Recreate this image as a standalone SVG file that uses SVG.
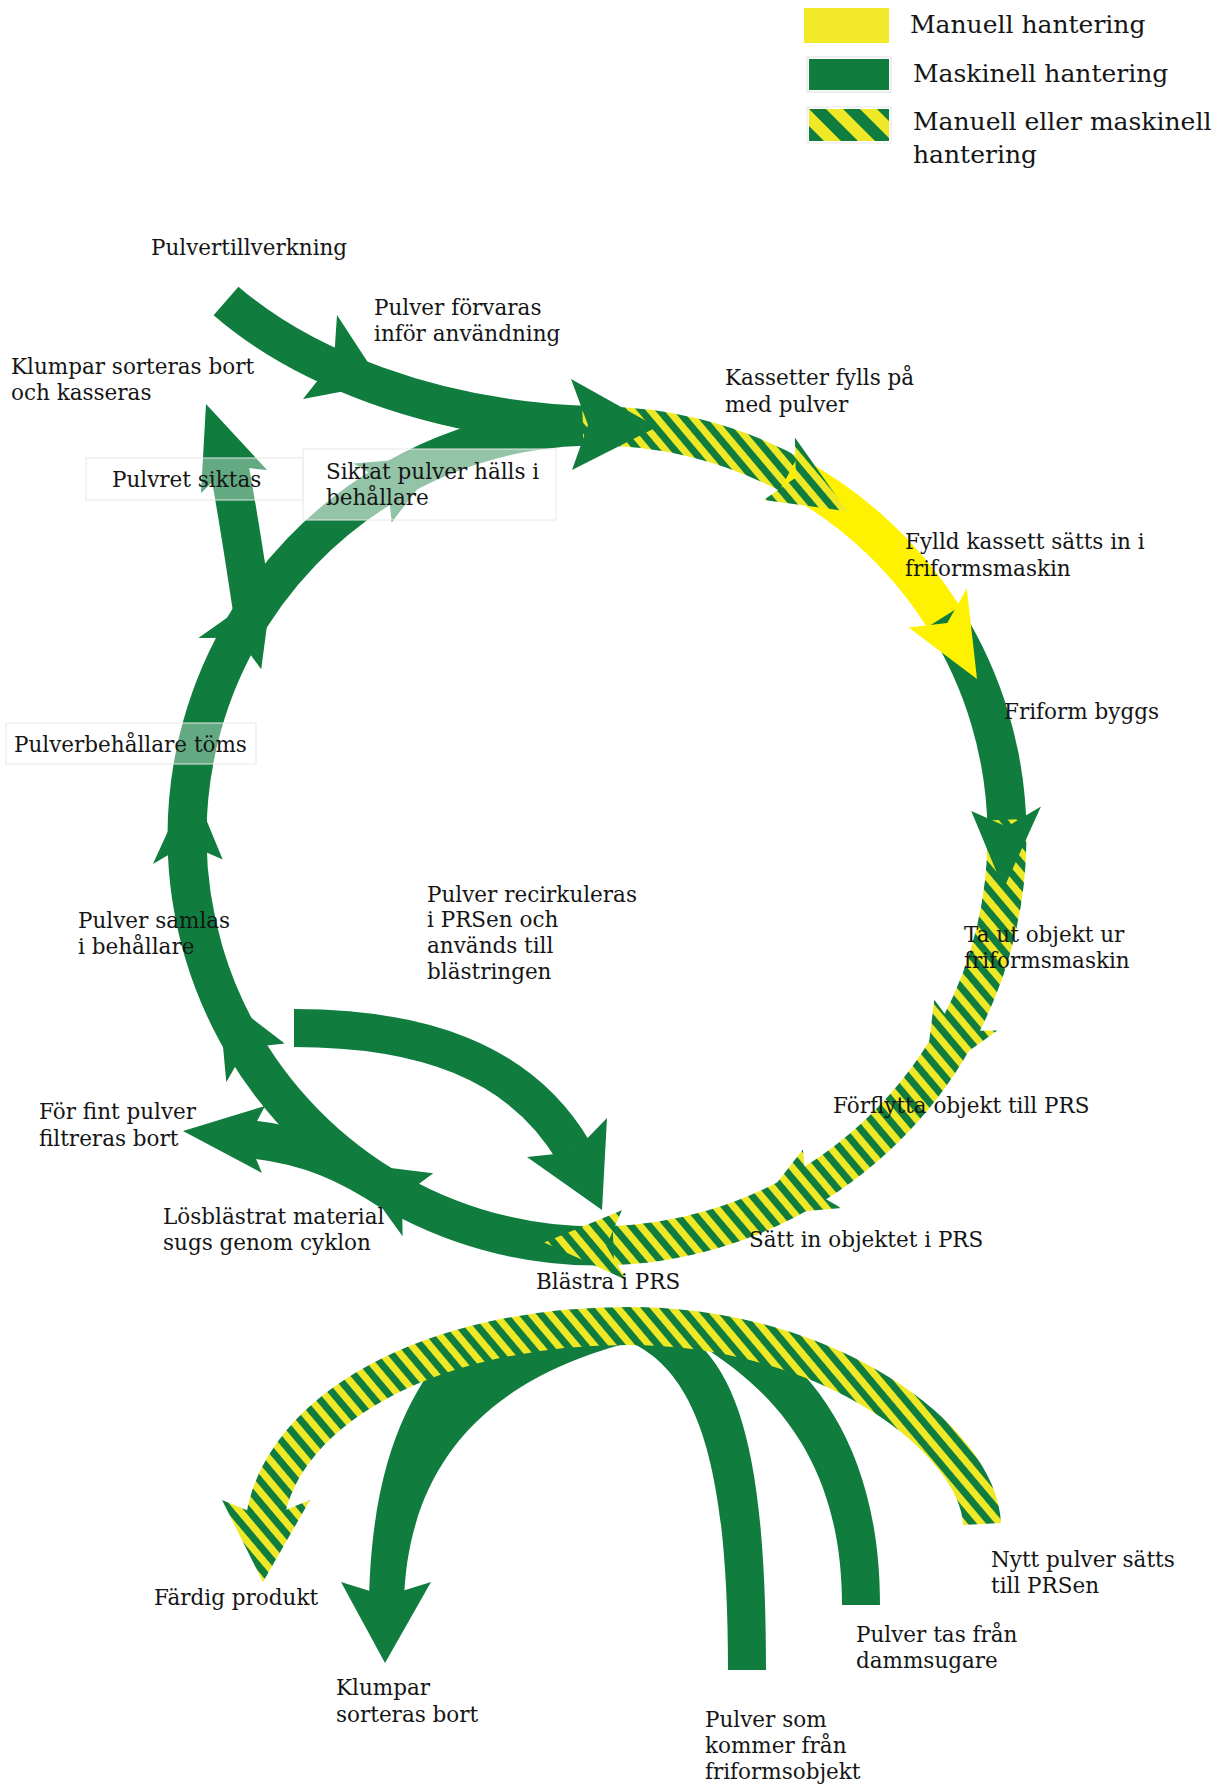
<svg xmlns="http://www.w3.org/2000/svg" width="1221" height="1785" viewBox="0 0 1221 1785">
<defs>
  <pattern id="stripe" patternUnits="userSpaceOnUse" width="14" height="14" patternTransform="rotate(-40)">
    <rect width="14" height="14" fill="#eee826"/>
    <rect width="7" height="14" fill="#107d3f"/>
  </pattern>
  <pattern id="stripeLeg" patternUnits="userSpaceOnUse" width="24" height="24" patternTransform="translate(809 109) rotate(-45)">
    <rect width="24" height="24" fill="#eee826"/>
    <rect width="12" height="24" fill="#107d3f"/>
  </pattern>
</defs>
<style>
  .g{fill:none;stroke:#107d3f;stroke-width:39}
  .g38{fill:none;stroke:#107d3f;stroke-width:38}
  .s{fill:none;stroke:url(#stripe);stroke-width:39}
  .y{fill:none;stroke:#fff200;stroke-width:39}
  .hg{fill:#107d3f}
  .hs{fill:url(#stripe)}
  .hy{fill:#fff200}
  .box{fill:#ffffff;stroke:#e8e8e8;stroke-width:1}
  text{font-family:"DejaVu Serif","Liberation Serif",serif;font-size:21.5px;fill:#151515}
  .leg{font-size:25px}
</style>

<g id="legend">
  <rect x="804" y="8" width="85" height="35" fill="#f2e929"/>
  <rect x="807" y="57" width="84" height="35" fill="#ffffff" stroke="#dddddd" stroke-width="1"/>
  <rect x="809" y="59" width="80" height="31" fill="#107d3f"/>
  <rect x="807" y="107" width="84" height="36" fill="#ffffff" stroke="#e6e6e6" stroke-width="1"/>
  <rect x="809" y="109" width="80" height="32" fill="url(#stripeLeg)"/>
  <text class="leg" x="910" y="33">Manuell hantering</text>
  <text class="leg" x="913" y="82">Maskinell hantering</text>
  <text class="leg" x="913" y="130">Manuell eller maskinell</text>
  <text class="leg" x="913" y="163">hantering</text>
</g>

<g id="connectors">
  <!-- bodies -->
  <path id="bodyA" class="g38" d="M 226 301 C 300 365, 430 420, 590 425"/>
  <path id="bodyC" class="s" d="M 582.7 426.3 A 410 410 0 0 1 798.3 478.8"/>
  <path id="bodyD" class="y" d="M 788.8 473.6 A 410 410 0 0 1 949.2 626.1"/>
  <path id="bodyE" class="g" d="M 943.6 616.9 A 410 410 0 0 1 1007.0 830.3"/>
  <path id="bodyF" class="s" d="M 1006.7 819.6 A 410 410 0 0 1 956.0 1034.2"/>
  <path id="bodyG" class="s" d="M 961.0 1024.7 A 410 410 0 0 1 803.8 1190.0"/>
  <path id="bodyH" class="s" d="M 813.1 1184.5 A 410 410 0 0 1 602.7 1246.0"/>
  <path id="bodyI" class="g" d="M 613.4 1245.7 A 410 410 0 0 1 398.8 1195.0"/>
  <path id="bodyFint" class="g38" d="M 391 1192 C 350 1165, 310 1145, 247 1139"/>
  <path id="bodyJ" class="g" d="M 408.3 1200.0 A 410 410 0 0 1 244.1 1044.7"/>
  <path id="bodyK" class="g" d="M 249.7 1053.9 A 410 410 0 0 1 187.0 840.3"/>
  <path id="bodyL" class="g" d="M 187.3 851.0 A 410 410 0 0 1 239.8 634.7"/>
  <path id="bodySiktas" class="g" d="M 254 620 C 247 575, 240 525, 229 466"/>
  <path id="bodyM1" class="g" d="M 234.6 644.2 A 410 410 0 0 1 390.8 481.6"/>
  <path id="bodyM2" class="g" d="M 381.5 487.2 A 410 410 0 0 1 582.7 426.3"/>
  <path id="bodyRecirk" class="g38" d="M 294 1028 C 420 1028, 520 1060, 574 1152"/>

  <!-- bottom green bands -->
  <path id="bandKlumpar" class="hg" d="M 455 1340 C 410 1390, 372 1460, 369 1600 L 404 1600 C 408 1480, 470 1380, 640 1340 Z"/>
  <path id="bandSom" class="hg" d="M 625 1340 C 700 1370, 728 1470, 728 1670 L 766 1670 C 766 1480, 745 1390, 700 1345 Z"/>
  <path id="bandTas" class="hg" d="M 700 1345 C 790 1400, 842 1480, 842 1605 L 880 1605 C 880 1470, 830 1390, 770 1343 Z"/>
  <!-- bottom striped arch -->
  <path id="arch" class="s" style="stroke-width:38" d="M 982 1524 C 978 1440, 830 1326, 628 1326 C 430 1326, 282 1410, 265 1518"/>

  <!-- heads -->
  <polygon id="headA" class="hg" points="382,384 337,315 334,360 303,399"/>
  <polygon id="headB" class="hg" points="657,427 571,379 588,425 572,470"/>
  <polygon id="headC" class="hs" points="847.1,511.2 794.9,437.5 795.8,477.4 763.7,500.1"/>
  <polygon id="headD" class="hy" points="977,679 966.8,588.4 947.3,623.0 908.6,627.4"/>
  <polygon id="headE" class="hg" points="1003.6,888.8 1041.0,806.5 1006.9,826.7 971.2,811.1"/>
  <polygon id="headF" class="hs" points="924.0,1083.3 997.3,1030.4 957.6,1031.0 934.3,999.8"/>
  <polygon id="headG" class="hs" points="751.2,1215.9 841.3,1207.9 806.9,1188.2 802.9,1149.4"/>
  <polygon id="headH" class="hs" points="544.2,1242.6 626.5,1280.0 606.3,1245.9 621.9,1210.2"/>
  <polygon id="headI" class="hg" points="349.7,1163.0 402.6,1236.3 402.0,1196.6 433.2,1173.3"/>
  <polygon id="headFint" class="hg" points="183,1131 265,1106 247.5,1139 262,1173"/>
  <polygon id="headJ" class="hg" points="218.0,992.3 226.3,1082.3 245.9,1047.8 284.7,1043.5"/>
  <polygon id="headK" class="hg" points="190.6,781.8 152.9,863.9 187.1,843.9 222.7,859.5"/>
  <polygon id="headL" class="hg" points="272.2,585.9 198.4,638.1 238.0,637.8 261.2,669.3"/>
  <polygon id="headSiktas" class="hg" points="206,404 267,470 229,466 201,493"/>
  <polygon id="headM" class="hg" points="443.4,455.9 353.3,463.6 387.7,483.4 391.7,522.2"/>
  <polygon id="headRecirk" class="hg" points="602,1210 607,1118 574,1152 527,1157"/>
  <polygon id="headArch" class="hs" points="263,1582 222,1500 266,1518 310,1500"/>
  <polygon id="headKlumpar" class="hg" points="385,1663 341,1582 386,1596 431,1582"/>
</g>

<g id="boxes">
  <rect class="box" x="86" y="458" width="217" height="42" fill-opacity="0.35"/>
  <rect class="box" x="303" y="449" width="253" height="71" fill-opacity="0.55"/>
  <rect class="box" x="6" y="723" width="250" height="41" fill-opacity="0.35"/>
</g>

<g id="n-pulvertillverkning"><text x="151" y="255">Pulvertillverkning</text></g>
<g id="n-forvaras"><text x="374" y="315">Pulver förvaras</text><text x="374" y="341">inför användning</text></g>
<g id="n-klumpar-kasseras"><text x="11" y="374">Klumpar sorteras bort</text><text x="11" y="400">och kasseras</text></g>
<g id="n-siktas"><text x="112" y="487">Pulvret siktas</text></g>
<g id="n-siktat"><text x="326" y="479">Siktat pulver hälls i</text><text x="326" y="505">behållare</text></g>
<g id="n-kassetter"><text x="725" y="385">Kassetter fylls på</text><text x="725" y="412">med pulver</text></g>
<g id="n-fylld"><text x="905" y="549">Fylld kassett sätts in i</text><text x="905" y="576">friformsmaskin</text></g>
<g id="n-friform"><text x="1004" y="719">Friform byggs</text></g>
<g id="n-tomms"><text x="14" y="752">Pulverbehållare töms</text></g>
<g id="n-taut"><text x="964" y="942">Ta ut objekt ur</text><text x="964" y="968">friformsmaskin</text></g>
<g id="n-samlas"><text x="78" y="928">Pulver samlas</text><text x="78" y="954">i behållare</text></g>
<g id="n-recirk"><text x="427" y="902">Pulver recirkuleras</text><text x="427" y="927">i PRSen och</text><text x="427" y="953">används till</text><text x="427" y="979">blästringen</text></g>
<g id="n-forflytta"><text x="833" y="1113">Förflytta objekt till PRS</text></g>
<g id="n-fint"><text x="39" y="1119">För fint pulver</text><text x="39" y="1146">filtreras bort</text></g>
<g id="n-losblastrat"><text x="163" y="1224">Lösblästrat material</text><text x="163" y="1250">sugs genom cyklon</text></g>
<g id="n-satt"><text x="749" y="1247">Sätt in objektet i PRS</text></g>
<g id="n-blastra"><text x="536" y="1289">Blästra i PRS</text></g>
<g id="n-nytt"><text x="991" y="1567">Nytt pulver sätts</text><text x="991" y="1593">till PRSen</text></g>
<g id="n-fardig"><text x="154" y="1605">Färdig produkt</text></g>
<g id="n-tas"><text x="856" y="1642">Pulver tas från</text><text x="856" y="1668">dammsugare</text></g>
<g id="n-klumpar"><text x="336" y="1695">Klumpar</text><text x="336" y="1722">sorteras bort</text></g>
<g id="n-som"><text x="705" y="1727">Pulver som</text><text x="705" y="1753">kommer från</text><text x="705" y="1779">friformsobjekt</text></g>
</svg>
